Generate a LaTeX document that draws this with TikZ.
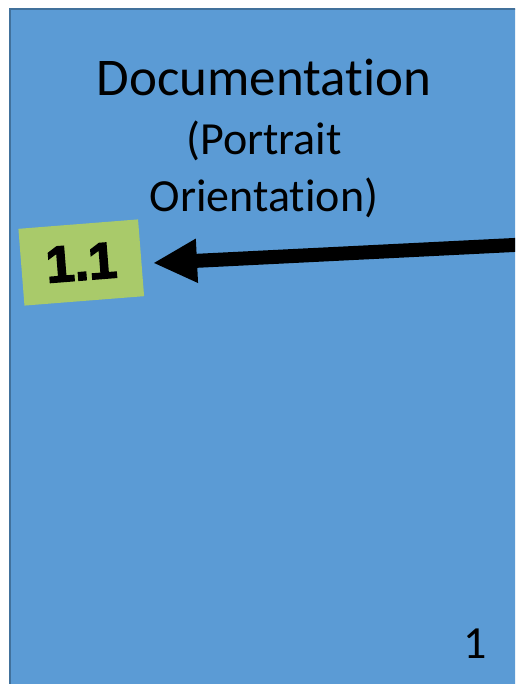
\documentclass[tikz,border=0pt]{standalone}
\usepackage{fontspec}
\setmainfont{Carlito}[Ligatures=NoCommon]
\newfontfamily\heavysans{Liberation Sans}[UprightFont=* Bold, UprightFeatures={FakeBold=3}]
\usetikzlibrary{arrows.meta}
\definecolor{pageblue}{HTML}{5B9BD5}
\definecolor{pageedge}{HTML}{41719C}
\definecolor{taggreen}{HTML}{A9CA6A}
\tikzset{
  page/.style={fill=pageblue, draw=pageedge, line width=2pt},
  title/.style={anchor=base, inner sep=0pt, font=\fontsize{53}{60}\selectfont},
  subtitle/.style={anchor=base, inner sep=0pt, font=\fontsize{46}{54}\selectfont},
  tag/.style={fill=taggreen, minimum width=120pt, minimum height=77pt, inner sep=0pt, rotate=4.5,
              font=\heavysans\fontsize{51}{60}\selectfont},
  bigarrow/.style={line width=14pt, -{Triangle[length=44pt,width=41pt]}}
}
\begin{document}
\begin{tikzpicture}[x=1pt,y=-1pt]
\useasboundingbox (0,0) rectangle (515,684);
\clip (0,0) rectangle (515,684);
\draw[page] (9.5,9) rectangle (540,700);
\node[title] (doc) at (264,96) {Documentation};
\node[subtitle] (portrait) at (264,155) {(Portrait};
\node[subtitle] (orient) at (264,212) {Orientation)};
\node[tag] (tagbox) at (81.25,262.5) {1.1};
\node[subtitle] (pagenum) at (475,658) {1};
\coordinate (arrowstart) at (530,244.2);
\coordinate (arrowtip) at (153,263);
\draw[bigarrow] (arrowstart) -- (arrowtip);
\end{tikzpicture}
\end{document}
